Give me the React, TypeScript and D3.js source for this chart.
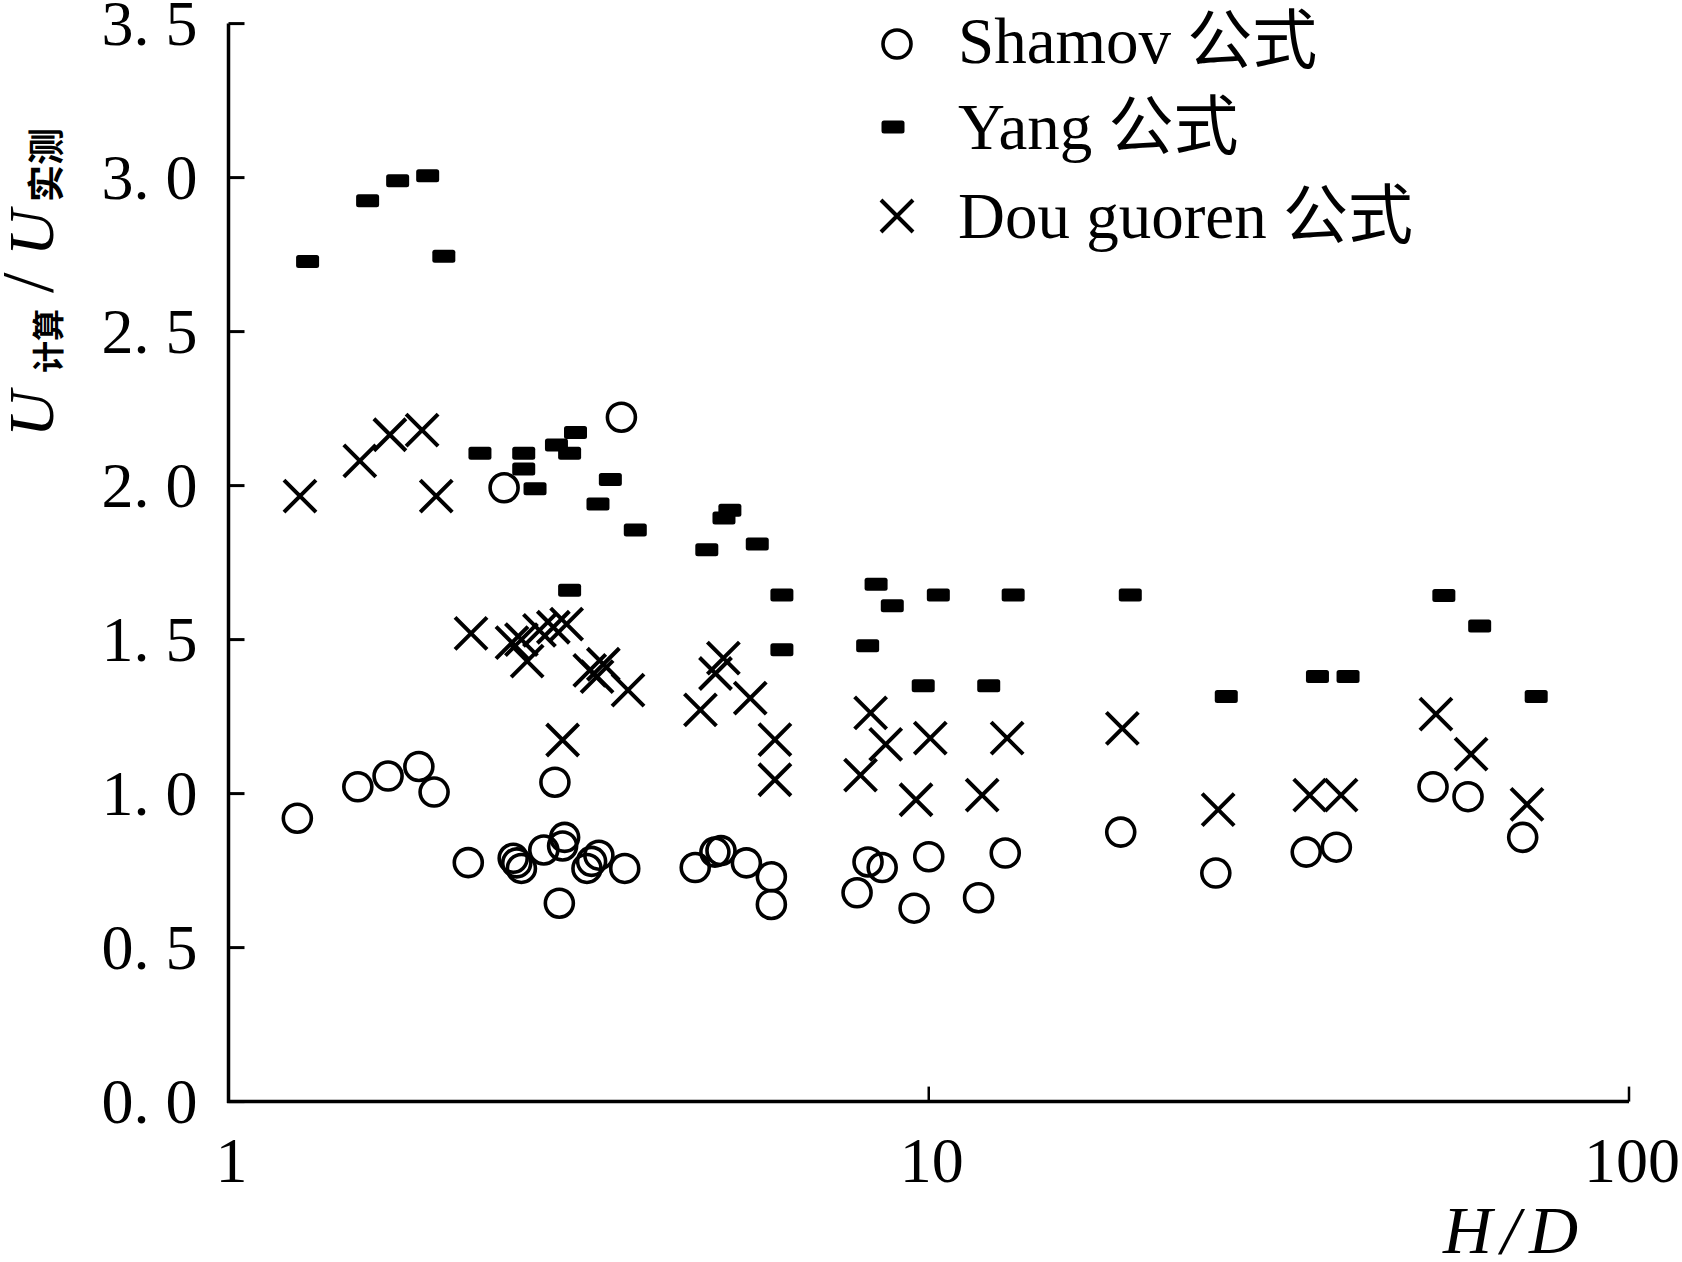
import React from "react";
import * as d3 from "d3";

// ---------- data (H/D , U计算/U实测) ----------
const shamovHD = [1.254, 1.53, 1.69, 1.87, 1.966, 2.2, 2.475, 2.55, 2.58, 2.62, 2.82, 2.925, 2.968, 3.0, 3.02, 3.25, 3.3, 3.38, 3.64, 3.68, 4.64, 4.95, 5.05, 5.49, 5.96, 5.96, 7.9, 8.19, 8.58, 9.53, 10.0, 11.78, 12.86, 18.8, 25.7, 34.6, 38.2, 52.5, 58.9, 70.5];
const shamovRatio = [0.92, 1.022, 1.057, 1.088, 1.005, 0.776, 1.993, 0.79, 0.775, 0.757, 0.817, 1.037, 0.644, 0.83, 0.858, 0.757, 0.78, 0.8, 2.222, 0.757, 0.76, 0.81, 0.815, 0.775, 0.73, 0.64, 0.678, 0.778, 0.76, 0.628, 0.795, 0.662, 0.807, 0.875, 0.742, 0.81, 0.826, 1.022, 0.99, 0.858];

const yangHD = [1.297, 1.58, 1.744, 1.925, 2.03, 2.286, 2.64, 2.64, 2.74, 2.94, 3.07, 3.13, 3.07, 3.37, 3.51, 3.81, 4.82, 5.1, 5.2, 5.69, 6.17, 6.17, 8.18, 8.41, 8.87, 9.82, 10.32, 12.18, 13.2, 19.4, 26.6, 35.9, 39.7, 54.4, 61.2, 73.7];
const yangRatio = [2.728, 2.925, 2.99, 3.006, 2.745, 2.105, 2.105, 2.054, 1.99, 2.132, 2.105, 2.172, 1.66, 1.94, 2.02, 1.856, 1.792, 1.895, 1.92, 1.81, 1.645, 1.467, 1.48, 1.68, 1.61, 1.35, 1.645, 1.35, 1.645, 1.645, 1.315, 1.38, 1.38, 1.643, 1.544, 1.315];

const douHD = [1.265, 1.54, 1.7, 1.89, 1.98, 2.22, 2.54, 2.62, 2.67, 2.78, 2.91, 3.04, 3.0, 3.28, 3.36, 3.43, 3.72, 4.72, 4.96, 5.09, 5.56, 6.03, 6.03, 7.99, 8.26, 8.68, 9.59, 10.05, 11.92, 12.94, 18.9, 25.9, 35.0, 38.8, 53.0, 59.5, 71.5];
const douRatio = [1.966, 2.08, 2.165, 2.18, 1.966, 1.52, 1.49, 1.5, 1.43, 1.53, 1.54, 1.55, 1.174, 1.4, 1.38, 1.42, 1.336, 1.272, 1.39, 1.44, 1.31, 1.175, 1.045, 1.06, 1.262, 1.16, 0.98, 1.18, 0.995, 1.18, 1.212, 0.948, 0.995, 0.995, 1.258, 1.128, 0.965];

const yTicks = [0, 0.5, 1.0, 1.5, 2.0, 2.5, 3.0, 3.5];
const xTicks = [1, 10, 100];
const legendLabels = ["Shamov 公式", "Yang 公式", "Dou guoren 公式"];

// ---------- layout ----------
const W = 1682;
const H = 1262;
const x = d3.scaleLog().domain([1, 100]).range([228.5, 1629]);
const y = d3.scaleLinear().domain([0, 3.5]).range([1101.6, 23.6]);

const serif = "'Liberation Serif', 'Times New Roman', serif";
const cjk = "'Noto Sans CJK SC', 'Noto Sans CJK JP', sans-serif";
const mixed = "'Liberation Serif', 'Noto Sans CJK SC', serif";

const Circle = ({ cx, cy }: { cx: number; cy: number }) => (
  <circle cx={cx} cy={cy} r={14} fill="none" stroke="#000" strokeWidth={3.6} />
);
const Dash = ({ cx, cy }: { cx: number; cy: number }) => (
  <rect x={cx - 11.5} y={cy - 6.5} width={23} height={13} rx={2.5} fill="#000" />
);
const Cross = ({ cx, cy }: { cx: number; cy: number }) => (
  <path
    d={`M${cx - 16},${cy - 16}L${cx + 16},${cy + 16}M${cx - 16},${cy + 16}L${cx + 16},${cy - 16}`}
    stroke="#000"
    strokeWidth={4}
    fill="none"
  />
);

export default function App() {
  const [x0, x1] = x.range();
  const [y0, y1] = y.range();
  return (
    <svg
      width={W}
      height={H}
      viewBox={`0 0 ${W} ${H}`}
      style={{ position: "absolute", left: 0, top: 0, display: "block", background: "#fff" }}
    >
      <rect x={0} y={0} width={W} height={H} fill="#fff" />

      {/* axes */}
      <line x1={x0} y1={y1} x2={x0} y2={y0 + 1.5} stroke="#000" strokeWidth={3.5} />
      <line x1={x0 - 1.5} y1={y0} x2={x1} y2={y0} stroke="#000" strokeWidth={3.5} />
      {yTicks.map((t) => (
        <line key={"yt" + t} x1={x0} x2={x0 + 16} y1={y(t)} y2={y(t)} stroke="#000" strokeWidth={3} />
      ))}
      {xTicks.slice(1).map((t) => (
        <line key={"xt" + t} x1={x(t)} x2={x(t)} y1={y0} y2={y0 - 15} stroke="#000" strokeWidth={2.5} />
      ))}

      {/* y tick labels */}
      {yTicks.map((t) => {
        const s = t.toFixed(1).split(".");
        return (
          <text key={"yl" + t} x={101.5} y={y(t) + 21.5} fontFamily={serif} fontSize={64} fill="#000">
            {s[0]}.<tspan dx={16}>{s[1]}</tspan>
          </text>
        );
      })}

      {/* x tick labels */}
      {xTicks.map((t) => (
        <text key={"xl" + t} x={x(t) + 3} y={1182} textAnchor="middle" fontFamily={serif} fontSize={64} fill="#000">
          {String(t)}
        </text>
      ))}

      {/* x axis title */}
      <text x={1443} y={1253} fontFamily={serif} fontStyle="italic" fontSize={68} letterSpacing={9} fill="#000">
        H/D
      </text>

      {/* y axis title */}
      <g transform="translate(53,0) rotate(-90)">
        <text fontFamily={serif} fill="#000">
          <tspan x={-437} y={0} fontStyle="italic" fontSize={64}>U</tspan>
          <tspan x={-373} y={7} fontFamily={cjk} fontWeight="bold" fontSize={32}>计算</tspan>
          <tspan x={-293} y={0} fontSize={74}>/</tspan>
          <tspan x={-256} y={0} fontStyle="italic" fontSize={64}>U</tspan>
          <tspan x={-202} y={7} fontFamily={cjk} fontWeight="bold" fontSize={37}>实测</tspan>
        </text>
      </g>

      {/* data */}
      <g>
        {yangHD.map((v, i) => (
          <Dash key={"y" + i} cx={x(v)} cy={y(yangRatio[i])} />
        ))}
        {douHD.map((v, i) => (
          <Cross key={"d" + i} cx={x(v)} cy={y(douRatio[i])} />
        ))}
        {shamovHD.map((v, i) => (
          <Circle key={"s" + i} cx={x(v)} cy={y(shamovRatio[i])} />
        ))}
      </g>

      {/* legend */}
      <g>
        <Circle cx={897} cy={44} />
        <Dash cx={893} cy={127} />
        <Cross cx={897} cy={216} />
        {legendLabels.map((l, i) => (
          <text key={"lg" + i} x={958} y={[63, 149, 238][i]} fontFamily={mixed} fontSize={65} fill="#000">
            {l}
          </text>
        ))}
      </g>
    </svg>
  );
}
